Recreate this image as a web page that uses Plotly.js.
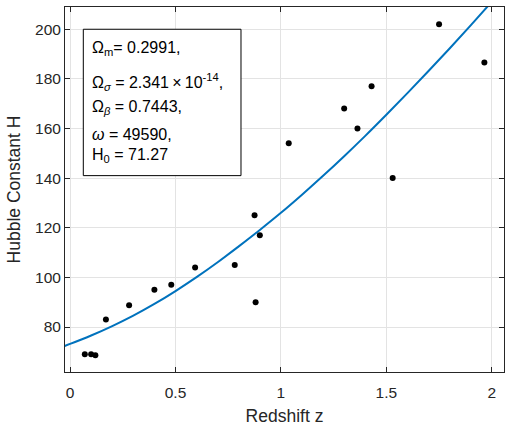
<!DOCTYPE html>
<html>
<head>
<meta charset="utf-8">
<script src="https://cdn.plot.ly/plotly-3.0.1.min.js"></script>
<style>
  html, body { margin: 0; padding: 0; background: #fff; }
  #chart { width: 512px; height: 429px; }
</style>
</head>
<body>
<div id="chart"></div>
<script>
// Observed Hubble parameter measurements H(z)
const redshift = [0.07, 0.1, 0.12, 0.17, 0.28, 0.4, 0.48, 0.593, 0.781, 0.875, 0.88, 0.9,
                  1.037, 1.3, 1.363, 1.43, 1.53, 1.75, 1.965];
const hubble = [69, 69, 68.6, 83, 88.8, 95, 97, 104, 105, 125, 90, 117,
                154, 168, 160, 177, 140, 202, 186.5];

// Best-fit model curve H(z)
const modelZ = [-0.1, 0, 0.1, 0.2, 0.3, 0.4, 0.5, 0.6, 0.7, 0.8, 0.9, 1.0,
                1.1, 1.2, 1.3, 1.4, 1.5, 1.6, 1.7, 1.8, 1.9, 2.0, 2.1];
const modelH = [70.1, 73.2, 76.6, 80.4, 84.6, 89.3, 94.5, 100.1, 106.1, 112.5, 119.1, 126.0,
                133.3, 140.9, 148.8, 157.0, 165.5, 174.2, 183.1, 192.2, 201.5, 211.0, 220.7];

// Fitted parameter labels
const paramLines = [
  'Ω<sub>m</sub>= 0.2991,',
  'Ω<sub><i>σ</i></sub> = 2.341\u2009×\u200910<sup>-14</sup>,',
  'Ω<sub><i>β</i></sub> = 0.7443,',
  '<i>ω</i> = 49590,',
  'H<sub>0</sub> = 71.27'
];
const paramY = [0.887, 0.795, 0.726, 0.652, 0.592];

const ink = '#262626';
const gridCol = '#e3e3e3';
const font = 'Liberation Sans, Arial, Helvetica, sans-serif';

const traces = [
  {
    x: modelZ, y: modelH, type: 'scatter', mode: 'lines',
    line: { color: '#0072BD', width: 2, shape: 'spline' },
    hoverinfo: 'skip', showlegend: false
  },
  {
    x: redshift, y: hubble, type: 'scatter', mode: 'markers',
    marker: { color: '#000', size: 6 },
    showlegend: false
  }
];

const annotations = paramLines.map((t, i) => ({
  xref: 'paper', yref: 'paper', x: 0.057, y: paramY[i],
  xanchor: 'left', yanchor: 'middle', showarrow: false, align: 'left',
  text: t, font: { family: font, size: 16, color: '#000' }
}));

const layout = {
  width: 512, height: 429,
  margin: { l: 65, r: 8, t: 7, b: 57, pad: 0 },
  paper_bgcolor: '#fff', plot_bgcolor: '#fff',
  font: { family: font, color: ink },
  xaxis: {
    range: [-0.024, 2.058], tickvals: [0, 0.5, 1, 1.5, 2], ticktext: ['0', '0.5', '1', '1.5', '2'],
    showgrid: true, gridcolor: gridCol, gridwidth: 1, zeroline: false,
    showline: true, linecolor: ink, linewidth: 1, mirror: 'ticks',
    ticks: 'inside', ticklen: 5, tickcolor: ink, ticklabelstandoff: 6,
    tickfont: { family: font, size: 15.5, color: ink },
    title: { text: 'Redshift z', font: { family: font, size: 17.5, color: ink }, standoff: 10 },
    automargin: false
  },
  yaxis: {
    range: [61.9, 208.9], tickvals: [80, 100, 120, 140, 160, 180, 200],
    showgrid: true, gridcolor: gridCol, gridwidth: 1, zeroline: false,
    showline: true, linecolor: ink, linewidth: 1, mirror: 'ticks',
    ticks: 'inside', ticklen: 5, tickcolor: ink,
    tickfont: { family: font, size: 15.5, color: ink },
    title: { text: 'Hubble Constant H', font: { family: font, size: 17.5, color: ink }, standoff: 9 },
    automargin: false
  },
  shapes: [
    { type: 'rect', xref: 'paper', yref: 'paper', x0: 0.0417, x1: 0.4009, y0: 0.538, y1: 0.939,
      line: { color: '#000', width: 1 }, fillcolor: '#fff', layer: 'above' }
  ],
  annotations: annotations
};

Plotly.newPlot('chart', traces, layout, { staticPlot: true, displayModeBar: false });
</script>
</body>
</html>
